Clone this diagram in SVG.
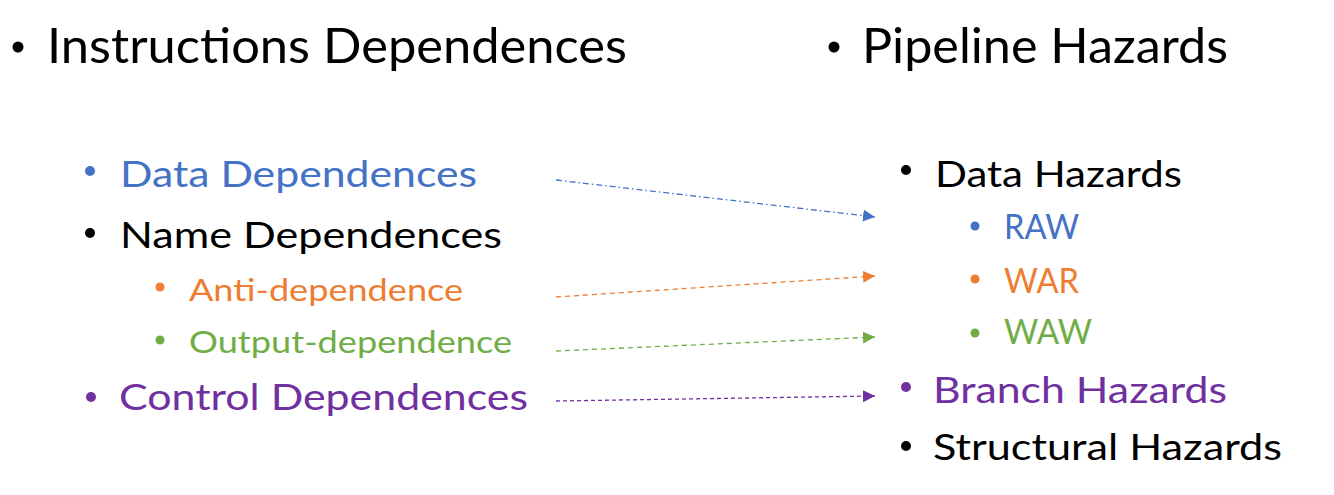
<svg xmlns="http://www.w3.org/2000/svg" width="1334" height="495" viewBox="0 0 1334 495">
<style>
text{font-family:Lato,"Open Sans","Liberation Sans",sans-serif}
.t0{font-size:49px}
.t1{font-size:36px}
.t2{font-size:31px}
.t3{font-size:34px}
.k{fill:#000}
.b{fill:#4472C4}
.o{fill:#ED7D31}
.g{fill:#70AD47}
.p{fill:#7030A0}
.ln{fill:none;stroke-width:1.3}
</style>
<defs>
<marker id="mb" markerUnits="userSpaceOnUse" markerWidth="13" markerHeight="13" refX="12" refY="6" orient="auto"><path d="M0,0 L12,6 L0,12 Z" fill="#4472C4"/></marker>
<marker id="mo" markerUnits="userSpaceOnUse" markerWidth="13" markerHeight="13" refX="12" refY="6" orient="auto"><path d="M0,0 L12,6 L0,12 Z" fill="#ED7D31"/></marker>
<marker id="mg" markerUnits="userSpaceOnUse" markerWidth="13" markerHeight="13" refX="12" refY="6" orient="auto"><path d="M0,0 L12,6 L0,12 Z" fill="#70AD47"/></marker>
<marker id="mp" markerUnits="userSpaceOnUse" markerWidth="13" markerHeight="13" refX="12" refY="6" orient="auto"><path d="M0,0 L12,6 L0,12 Z" fill="#7030A0"/></marker>
</defs>
<rect width="1334" height="495" fill="#fff"/>

<g id="title-left"><circle class="k" cx="18" cy="47" r="5.5"/><text class="t0 k" x="47" y="63" textLength="580" lengthAdjust="spacingAndGlyphs">Instructions Dependences</text></g>
<g id="title-right"><circle class="k" cx="834" cy="47" r="5.5"/><text class="t0 k" x="862" y="63" textLength="366" lengthAdjust="spacingAndGlyphs">Pipeline Hazards</text></g>

<g id="data-dep"><circle class="b" cx="90" cy="171" r="5"/><text class="t1 b" x="120" y="187" textLength="357" lengthAdjust="spacingAndGlyphs">Data Dependences</text></g>
<g id="name-dep"><circle class="k" cx="90" cy="233" r="5"/><text class="t1 k" x="120" y="248" textLength="382" lengthAdjust="spacingAndGlyphs">Name Dependences</text></g>
<g id="anti-dep"><circle class="o" cx="160" cy="287" r="4.5"/><text class="t2 o" x="189" y="301" textLength="274" lengthAdjust="spacingAndGlyphs">Anti-dependence</text></g>
<g id="output-dep"><circle class="g" cx="160" cy="340" r="4.5"/><text class="t2 g" x="189" y="353" textLength="323" lengthAdjust="spacingAndGlyphs">Output-dependence</text></g>
<g id="control-dep"><circle class="p" cx="91" cy="397" r="5"/><text class="t1 p" x="119" y="410" textLength="409" lengthAdjust="spacingAndGlyphs">Control Dependences</text></g>

<g id="data-haz"><circle class="k" cx="906" cy="170" r="5"/><text class="t1 k" x="935" y="187" textLength="247" lengthAdjust="spacingAndGlyphs">Data Hazards</text></g>
<g id="raw"><circle class="b" cx="975" cy="226" r="4.5"/><text class="t3 b" x="1004" y="239" textLength="75" lengthAdjust="spacingAndGlyphs">RAW</text></g>
<g id="war"><circle class="o" cx="975" cy="279" r="4.5"/><text class="t3 o" x="1004" y="293" textLength="75" lengthAdjust="spacingAndGlyphs">WAR</text></g>
<g id="waw"><circle class="g" cx="975" cy="333" r="4.5"/><text class="t3 g" x="1004" y="344" textLength="88" lengthAdjust="spacingAndGlyphs">WAW</text></g>
<g id="branch-haz"><circle class="p" cx="906" cy="387" r="5"/><text class="t1 p" x="933" y="403" textLength="294" lengthAdjust="spacingAndGlyphs">Branch Hazards</text></g>
<g id="struct-haz"><circle class="k" cx="906" cy="446" r="5"/><text class="t1 k" x="933" y="460" textLength="349" lengthAdjust="spacingAndGlyphs">Structural Hazards</text></g>

<g id="connectors">
<line class="ln" x1="556" y1="180" x2="875" y2="217" stroke="#4472C4" stroke-dasharray="6 3 1.5 3" marker-end="url(#mb)"/>
<line class="ln" x1="556" y1="297" x2="875" y2="276" stroke="#ED7D31" stroke-dasharray="5 4" marker-end="url(#mo)"/>
<line class="ln" x1="556" y1="351" x2="875" y2="337" stroke="#70AD47" stroke-dasharray="5 4" marker-end="url(#mg)"/>
<line class="ln" x1="556" y1="401" x2="875" y2="396" stroke="#7030A0" stroke-dasharray="4 3" marker-end="url(#mp)"/>
</g>
</svg>
